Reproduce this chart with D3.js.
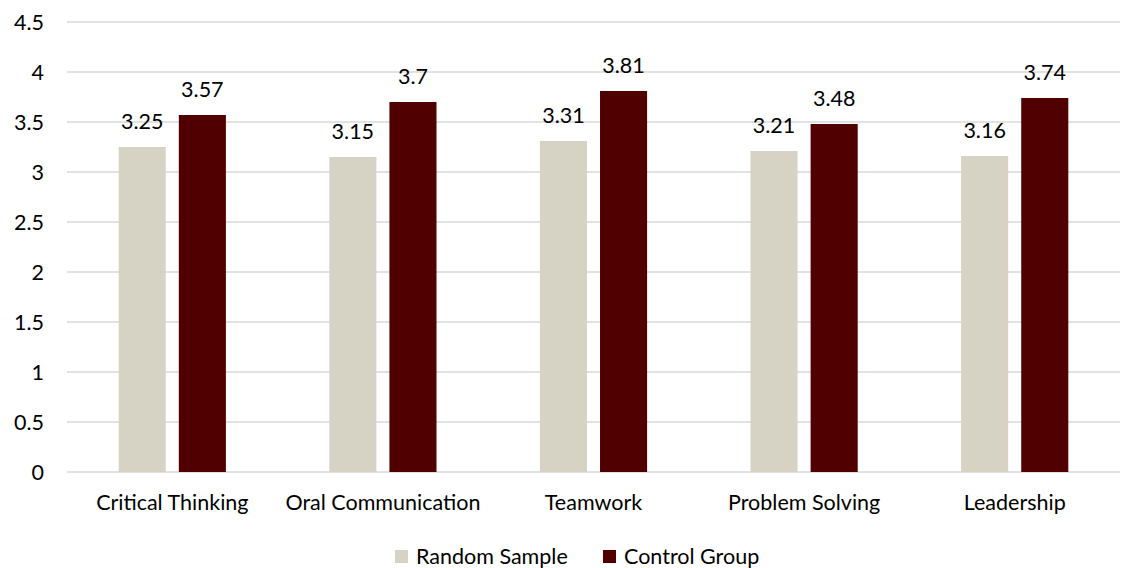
<!doctype html>
<html>
<head>
<meta charset="utf-8">
<title>Skills</title>
<script src="https://cdn.jsdelivr.net/npm/d3@7"></script>
<style>
  body { margin: 0; background: #fff; }
  text { font-family: Lato, "Open Sans", sans-serif; fill: #000; }
</style>
</head>
<body>
<svg width="1123" height="568"></svg>
<script>
var categories = ["Critical Thinking", "Oral Communication", "Teamwork", "Problem Solving", "Leadership"];
var series = ["Random Sample", "Control Group"];
var randomSample = [3.25, 3.15, 3.31, 3.21, 3.16];
var controlGroup = [3.57, 3.7, 3.81, 3.48, 3.74];
var yTicks = [0, 0.5, 1, 1.5, 2, 2.5, 3, 3.5, 4, 4.5];
var colors = ["#d6d3c4", "#500000"];
var fontSize = "21.5px";

var svg = d3.select("svg"),
    margin = { top: 22, right: 3, bottom: 96, left: 67 },
    width = +svg.attr("width") - margin.left - margin.right,
    height = +svg.attr("height") - margin.top - margin.bottom,
    g = svg.append("g").attr("transform", "translate(" + margin.left + "," + margin.top + ")");

var rows = categories.map(function(c, i) {
    return { cat: c, values: [randomSample[i], controlGroup[i]] };
});

var x0 = d3.scaleBand().domain(categories).range([0, width]);
var x1 = d3.scaleBand().domain(series).range([0, x0.bandwidth()])
    .paddingInner(0.217).paddingOuter(0.86);
var y = d3.scaleLinear().domain([0, 4.5]).range([height, 0]);

// gridlines
g.append("g").selectAll("line").data(yTicks).enter().append("line")
    .attr("x1", 0).attr("x2", width)
    .attr("y1", function(d) { return y(d); }).attr("y2", function(d) { return y(d); })
    .attr("stroke", "#d9d9d9").attr("stroke-width", 1.3);

// y axis labels
var yAxis = g.append("g").call(d3.axisLeft(y).tickValues(yTicks).tickSize(0).tickPadding(23)
    .tickFormat(function(d) { return d; }));
yAxis.select(".domain").remove();
yAxis.selectAll("text").style("font-size", fontSize).attr("dy", "0.35em");

// bars
var groups = g.selectAll(".grp").data(rows).enter().append("g")
    .attr("transform", function(d) { return "translate(" + x0(d.cat) + ",0)"; });

groups.selectAll("rect").data(function(d) { return d.values; }).enter().append("rect")
    .attr("x", function(d, i) { return x1(series[i]); })
    .attr("y", function(d) { return y(d); })
    .attr("width", x1.bandwidth())
    .attr("height", function(d) { return height - y(d); })
    .attr("fill", function(d, i) { return colors[i]; });

groups.selectAll(".val").data(function(d) { return d.values; }).enter().append("text")
    .attr("x", function(d, i) { return x1(series[i]) + x1.bandwidth() / 2; })
    .attr("y", function(d) { return y(d) - 18; })
    .attr("text-anchor", "middle")
    .style("font-size", fontSize)
    .text(function(d) { return d; });

// x axis labels
var xAxis = g.append("g").attr("transform", "translate(0," + height + ")")
    .call(d3.axisBottom(x0).tickSize(0).tickPadding(23));
xAxis.select(".domain").remove();
xAxis.selectAll("text").style("font-size", fontSize);

// legend
var legendX = [395, 603];
var legend = svg.append("g").selectAll("g").data(series).enter().append("g")
    .attr("transform", function(d, i) { return "translate(" + legendX[i] + ",550)"; });
legend.append("rect").attr("width", 13).attr("height", 13)
    .attr("fill", function(d, i) { return colors[i]; });
legend.append("text").attr("x", 21).attr("y", 14)
    .style("font-size", fontSize).text(function(d) { return d; });
</script>
</body>
</html>
